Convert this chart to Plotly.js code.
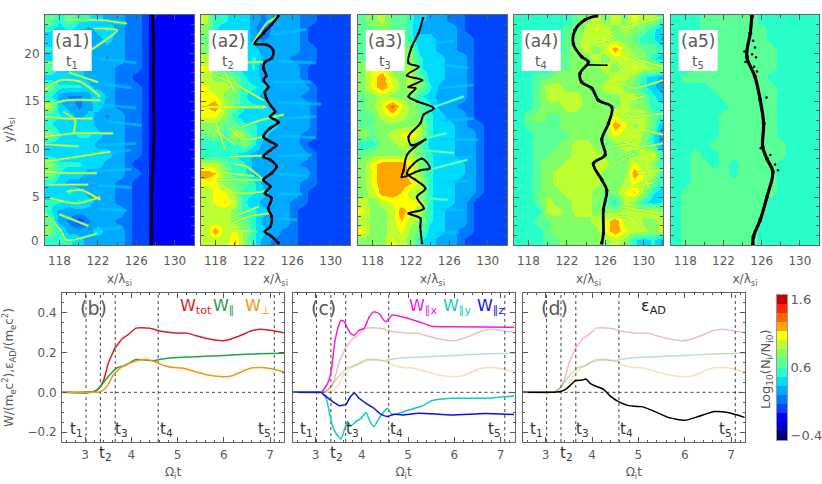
<!DOCTYPE html>
<html>
<head>
<meta charset="utf-8">
<script src="https://cdn.plot.ly/plotly-3.0.1.min.js"></script>
<style>html,body{margin:0;padding:0;background:#fff}#chart{width:822px;height:484px}</style>
</head>
<body>
<div id="chart"></div>
<script>
// density maps, read by eye, in tenths of log10(Ni/Ni0); rows run from top (y=23.5) to bottom (y=0.5)
const mapX = [117,118,119,120,121,122,123,124,125,126,127,128,129,130,131,132];
const mapY = [23.5,22.5,21.5,20.5,19.5,18.5,17.5,16.5,15.5,14.5,13.5,12.5,11.5,10.5,9.5,8.5,7.5,6.5,5.5,4.5,3.5,2.5,1.5,0.5];

const a1Rows = [
  [7,5,7,5,5,4,3,3,2,2,0,-1,-1,-1,-1,-1],[5,4,5,4,3,4,5,3,2,2,0,-1,-1,-1,-1,-1],
  [4,4,4,3,2,3,4,3,2,2,0,-1,-1,-1,-1,-1],[5,4,4,4,2,3,3,3,2,2,0,-1,-1,-1,-1,-1],
  [4,4,4,3,3,3,2,3,2,2,0,-1,-1,-1,-1,-1],[7,4,4,4,3,3,3,2,2,2,0,-1,-1,-1,-1,-1],
  [4,4,4,4,3,3,3,2,2,0,0,-1,-1,-1,-1,-1],[7,5,5,5,4,3,3,2,2,2,0,-1,-1,-1,-1,-1],
  [5,3,2,2,3,5,3,2,2,2,0,-1,-1,-1,-1,-1],[9,4,3,2,3,4,3,2,2,2,0,-1,-1,-1,-1,-1],
  [5,5,4,3,4,3,2,3,2,2,0,-1,-1,-1,-1,-1],[5,4,4,4,4,3,3,3,2,2,0,-1,-1,-1,-1,-1],
  [8,5,4,5,5,4,3,3,2,2,0,-1,-1,-1,-1,-1],[4,4,4,4,4,3,3,3,2,2,0,-1,-1,-1,-1,-1],
  [4,4,4,4,4,4,4,3,2,2,0,-1,-1,-1,-1,-1],[8,5,5,5,4,4,3,3,2,0,0,-1,-1,-1,-1,-1],
  [8,5,4,4,3,3,3,3,2,2,0,-1,-1,-1,-1,-1],[5,4,3,3,3,3,3,2,2,0,0,-1,-1,-1,-1,-1],
  [4,4,5,4,3,3,3,2,2,0,0,-1,-1,-1,-1,-1],[5,5,4,5,4,3,3,2,2,0,0,-1,-1,-1,-1,-1],
  [5,3,3,3,3,3,3,3,2,0,0,-1,-1,-1,-1,-1],[7,3,2,0,2,3,3,2,2,0,0,-1,-1,-1,-1,-1],
  [8,5,3,3,3,4,3,3,2,0,0,-1,-1,-1,-1,-1],[5,5,5,4,3,3,3,3,2,0,0,-1,-1,-1,-1,-1]
];
const a2Rows = [
  [9,5,5,4,4,3,2,3,3,3,2,2,0,0,0,0],[8,5,4,4,4,3,0,3,3,3,2,0,0,0,0,0],
  [7,5,4,4,4,3,2,3,3,3,2,0,0,0,0,0],[8,5,5,4,4,4,3,3,3,3,2,2,0,0,0,0],
  [9,7,5,4,4,5,3,3,3,2,2,2,0,0,0,0],[10,8,5,5,4,5,2,3,3,3,2,0,0,0,0,0],
  [9,8,8,7,5,4,3,3,3,3,2,0,0,0,0,0],[10,9,9,8,5,5,4,3,3,3,3,2,0,0,0,0],
  [10,10,8,7,5,4,3,3,3,3,2,2,0,0,0,0],[11,12,9,7,5,5,5,3,3,3,3,2,0,0,0,0],
  [10,10,8,5,4,4,4,4,3,3,3,2,0,0,0,0],[8,8,7,7,5,5,4,4,3,3,3,2,0,0,0,0],
  [7,8,5,10,8,5,4,3,3,3,2,2,0,0,0,0],[5,5,5,5,8,5,3,3,3,3,2,0,0,0,0,0],
  [5,5,5,5,4,3,3,3,3,3,3,2,0,0,0,0],[9,9,7,5,5,3,3,3,3,3,2,2,0,0,0,0],
  [12,11,8,5,5,3,3,3,3,3,3,2,0,0,0,0],[10,10,8,7,7,5,3,3,3,3,2,2,0,0,0,0],
  [9,10,10,8,5,5,4,3,3,3,2,0,0,0,0,0],[9,10,11,9,5,4,3,3,3,2,2,0,0,0,0,0],
  [9,9,9,8,5,5,4,3,3,2,0,0,0,0,0,0],[9,9,9,8,7,5,3,3,3,2,0,0,0,0,0,0],
  [9,12,9,10,8,5,4,3,2,2,0,0,0,0,0,0],[9,9,9,11,8,5,3,2,2,2,0,0,0,0,0,0]
];
const a3Rows = [
  [7,8,9,7,7,5,4,3,3,2,2,0,0,0,0,0],[7,7,8,7,7,5,3,3,3,3,2,0,0,0,0,0],
  [7,7,7,7,8,5,4,4,3,3,2,2,0,0,0,0],[7,7,7,8,8,7,4,4,3,3,2,2,0,0,0,0],
  [7,7,7,8,8,8,5,4,4,3,3,2,0,0,0,0],[8,10,10,8,8,9,5,4,4,3,3,2,0,0,0,0],
  [8,10,12,9,8,9,7,4,4,3,3,2,0,0,0,0],[8,10,12,10,8,9,8,5,3,3,3,2,0,0,0,0],
  [7,8,9,8,8,8,5,4,3,3,3,2,0,0,0,0],[7,8,10,13,10,8,7,5,3,3,2,2,0,0,0,0],
  [7,7,9,10,9,8,7,5,4,3,3,2,0,0,0,0],[7,7,8,8,8,8,9,5,4,4,3,2,2,0,0,0],
  [8,7,8,9,10,11,9,5,4,4,3,3,2,0,0,0],[5,5,8,8,9,8,7,4,4,4,3,3,2,0,0,0],
  [7,8,8,8,8,9,7,5,4,4,3,3,2,0,0,0],[8,10,12,12,12,10,8,5,4,4,4,3,2,0,0,0],
  [8,10,12,12,12,10,8,5,4,4,4,3,2,0,0,0],[8,10,12,12,12,11,9,5,4,4,3,3,2,0,0,0],
  [8,9,12,12,11,9,9,5,4,4,3,3,2,0,0,0],[9,8,9,10,10,10,10,5,4,4,3,2,0,0,0,0],
  [10,8,8,9,12,10,9,5,4,3,3,2,0,0,0,0],[9,8,8,9,11,9,8,5,4,3,3,2,0,0,0,0],
  [10,8,8,9,10,8,7,4,4,3,2,2,0,0,0,0],[8,8,8,10,9,8,5,4,3,3,2,0,0,0,0,0]
];
const a4Rows = [
  [5,5,5,5,5,5,7,8,9,8,9,8,10,9,9,5],[5,5,5,5,5,7,7,9,10,9,8,9,8,7,5,4],
  [5,5,5,5,5,7,8,9,9,10,8,8,7,5,5,3],[5,5,5,5,5,7,8,9,8,9,12,9,8,7,7,5],
  [5,5,5,5,7,7,8,8,9,8,9,10,9,8,5,4],[5,5,5,5,7,7,8,8,8,9,8,9,10,9,9,8],
  [5,5,7,7,8,8,8,8,8,8,9,9,8,5,4,3],[5,5,7,9,9,8,8,8,8,9,10,8,7,5,4,2],
  [5,5,7,9,9,9,9,8,8,8,8,9,9,7,5,4],[5,5,7,8,8,9,9,8,8,8,8,9,8,8,5,5],
  [5,7,8,7,7,8,8,8,8,8,10,9,10,9,7,5],[5,7,7,7,7,8,8,8,8,8,12,10,8,9,7,3],
  [5,5,7,7,7,7,8,8,8,8,10,9,10,8,5,2],[5,5,7,7,7,8,9,9,8,7,8,10,9,8,5,2],
  [5,5,7,7,8,8,9,9,9,8,7,8,8,9,10,5],[5,5,7,8,8,9,9,9,9,9,8,8,10,9,8,5],
  [5,5,7,8,9,9,9,9,9,8,8,8,12,10,9,5],[5,5,7,8,9,9,9,9,9,8,7,9,10,9,7,5],
  [5,5,7,8,8,9,9,9,8,7,8,10,11,8,5,4],[5,5,7,9,8,8,9,9,8,7,5,9,8,5,4,5],
  [5,5,5,9,9,8,9,9,8,8,8,9,9,9,10,8],[5,5,7,7,8,8,8,8,9,10,12,9,10,8,8,9],
  [5,5,5,7,8,8,8,8,8,10,12,10,9,9,8,9],[5,5,5,7,7,8,8,8,8,8,9,8,5,4,5,3]
];
const a5Rows = [
  [5,5,5,7,7,7,7,7,7,5,5,5,5,5,5,5],[5,5,5,7,7,7,7,7,7,7,5,5,5,5,5,5],
  [5,5,7,7,7,7,7,7,7,7,5,5,5,5,5,5],[5,5,7,7,7,7,7,7,7,7,7,5,5,5,5,5],
  [5,5,7,7,7,7,7,7,7,7,7,5,5,5,5,5],[5,5,7,7,7,7,7,7,7,7,7,5,5,5,5,5],
  [5,7,7,7,7,7,7,7,7,7,5,5,5,5,5,5],[5,5,5,5,7,7,7,7,7,7,7,5,5,5,5,5],
  [5,5,5,5,5,7,7,7,7,7,7,5,5,5,5,5],[5,5,5,5,5,5,7,7,7,7,7,5,5,5,5,5],
  [5,5,5,5,5,7,7,7,7,7,7,5,5,5,5,5],[5,5,5,5,5,7,7,7,7,7,7,5,5,5,5,5],
  [5,5,5,5,5,7,7,7,7,7,7,5,5,5,5,5],[5,5,5,5,7,7,7,7,7,7,7,7,5,5,5,5],
  [5,5,7,5,5,7,7,7,7,7,7,7,5,5,5,5],[5,5,7,7,5,7,5,7,7,7,7,5,5,5,5,5],
  [5,5,7,7,7,7,5,7,7,7,7,5,5,5,5,5],[5,5,7,7,7,7,7,7,7,7,7,5,5,5,5,5],
  [5,7,7,7,7,7,7,7,7,7,7,5,5,5,5,5],[5,7,7,7,7,7,7,7,7,7,5,5,5,5,5,5],
  [5,7,7,7,7,7,7,7,7,7,5,5,5,5,5,5],[5,7,7,7,7,7,7,7,7,5,5,5,5,5,5,5],
  [5,7,7,7,7,7,7,7,7,5,5,5,5,5,5,5],[5,7,7,7,7,7,7,7,7,5,5,5,5,5,5,5]
];

// thin bright filaments on top of the maps, null separates one from the next
const a1FilX = [116.5,118.07,120.16,122.25,null,116.5,118.76,122.25,null,116.5,118.76,121.4,null,116.5,119.46,123.6,null,116.5,119.8,123.3,null,116.5,118.76,121.9,null,117,119.8,122.25,null,116.5,118.07,118.76,121.9,null,118.76,122.25,125,null,121.55,124,121.2,null,119.46,119.64,118.4,null,118.76,120.3,122.25,null,116.5,118.5,null,116.5,120,null,117,121,null,118,121,null,119,122];
const a1FilY = [16.2,17.2,17.05,15.5,null,14.6,15.1,15.1,null,13.4,13.2,13.2,null,11.3,11.65,11.65,null,8.7,9.2,9.75,null,7.65,7.5,7.5,null,4.9,4.35,5,null,3.3,1.6,0.5,1.2,null,23.5,23.5,23.1,null,22.6,22.4,20.3,null,11.65,13,13.9,null,5.57,5.74,4.7,null,19,19,null,10.5,10.3,null,6.3,6.3,null,3.2,2,null,18,17];
const a2FilX = [118.1,119.85,123,null,117.06,119.85,123.3,null,120.5,122.3,125.1,null,119.85,121.06,123,null,119.5,122.6,123.3,null,119.85,121.2,123,null,118.1,120.5,123,null,119.15,121.2,123.3,null,119.85,121.6,123.7,null,121.9,123.3,124.55,null,119.85,123,null,117,119,null,118,120,null,120,122.5,null,118,122,null,120,122,null,119,120,null,118,119];
const a2FilY = [17.6,16.9,15.1,null,14.4,14.4,14.4,null,12.2,12.9,13.6,null,11.8,11,11.3,null,9.2,9.3,9.2,null,8.5,8.2,6.8,null,6.8,6.8,6.8,null,5.4,5.4,5.6,null,2.3,3,3.3,null,21,23.1,23.9,null,19,19.1,null,21,20,null,12,10.5,null,3,4,null,7.6,7.2,null,1.5,1.5,null,18,16,null,13,10];
const a3FilX = [122.6,125.8,null,123.7,127.9,null,124.4,127.5,null,123,126.5,null,123.3,125.7];
const a3FilY = [5,4.7,null,7.8,8.9,null,14.4,15.5,null,9.9,9.6,null,11.1,11.65];
const a4FilX = [126.5,128.2,129.6,132,null,127.56,129.65,132,null,127.56,128.95,132,null,127.2,128.6,128.26,132,null,127.56,129.65,132,null,129.3,132,null,127.56,129.65,132,null,126.15,128.2,129.6,null,126.5,129,null,124.5,127,null,128,130,null,127,129,null,128,131,null,129.5,130.5,null,130,132,null,127,128];
const a4FilY = [22.1,22.8,23.1,23.8,null,20.3,19.3,18.6,null,16.9,16.35,17.2,null,12.7,13.7,13.4,13.7,null,10.96,10.26,10.6,null,7.5,7.8,null,4,3.65,3.3,null,2.6,3,1.9,null,10.26,10.6,null,21,21.5,null,15,15.5,null,8.5,9.5,null,6,6.5,null,9,6,null,12,11.5,null,19,18];

// soft cyan streaks running out past the bright filaments
const a1StreakX = [121,125,null,122,126,null,121,125.5,null,122,126,null,123,126.5,null,122,126,null,122,125.5,null,121.5,125.5,null,122,125.5,null,122,125,null,121.5,124.5];
const a1StreakY = [23,23.2,null,19.5,19,null,17,16.4,null,14.7,14.3,null,12.9,12.5,null,10.4,10.6,null,9.5,9.9,null,7.7,7.9,null,6.2,6,null,3.8,3.6,null,1.6,1.8];
const a2StreakX = [124,127.5,null,124.5,128.5,null,124,128,null,124.5,129,null,125,128.5,null,124.5,128.5,null,124.5,128,null,124.5,127.5,null,124.5,127,null,124.5,126.5];
const a2StreakY = [22,22.5,null,19.2,19,null,17,17,null,14.9,14.7,null,13.2,13.4,null,11.4,11.2,null,9.3,9.4,null,7.4,7.2,null,5.3,5.3,null,2.8,2.6];
const a3StreakX = [124,126.5,null,125,128,null,125,128.5,null,125,128.5,null,125,129,null,125,128.5,null,125,128,null,124.5,127.5,null,124.5,127];
const a3StreakY = [21,21.3,null,18.8,18.5,null,16.4,16.7,null,13,13.2,null,11,11,null,9,9.2,null,6.5,6.7,null,3.8,3.6,null,1.2,1.3];

// particle front positions
const a1FrontX = [127.7,127.75,127.8,127.75,127.8,127.8,127.85,127.8,127.7,127.6,127.6,127.6,127.55];
const a1FrontY = [24,22,20,18,16,14,12,10,8,6,4,2,0];
const a2FrontX = [124.55,123.85,123,122.1,123.3,124,123.85,123.15,123,123.3,123,123.5,123.15,123.3,123.7,124.2,123.7,124.55,123.7,123,123.7,124.35,123.7,123,123.7,124.35,123.85,123,123.7,123.15,123.85,123.5,123.85,123.7,123.15,123.85,124.55];
const a2FrontY = [23.9,23,22.1,21,20.9,20.3,19.5,19.1,18.4,17.7,17.2,16.5,16,15.3,14.6,13.9,13.4,12.8,12.2,11.3,10.8,10.4,9.9,9.2,8.9,8.2,7.5,6.8,6.1,5.4,4.9,3.8,3,1.9,1.4,0.9,0.2];
const a3FrontX = [123.26,122.8,122.1,121.76,122.8,121.6,123.16,121.76,122.46,121.76,122.63,124.37,123.33,122.98,121.76,122.1,123.5,122.46,121.6,121.24,121.06,122.98,123.96,123.16,121.6,122.46,123.5,122.63,123.33,121.76,122.98,122.98,123.16];
const a3FrontY = [23.65,22.1,20.7,19,18.6,17.7,17.2,16.5,16.35,15.5,15,14.26,13.6,12.7,11.3,10.4,11,10.26,9.4,7.8,7.1,7.8,8,9,7.5,6.8,5.9,5,3.8,3.3,2.8,1.9,0.2];
const a4FrontX = [125.1,123.9,122.84,122.67,123.54,124.24,123.36,123.54,124.6,125.28,126.67,126.33,125.63,125.98,124.76,125.63,126.15,125.8,125.8,125.63];
const a4FrontY = [23.9,23.5,22.4,21,19.65,19.1,17.9,17,16.35,15.1,14.4,12.7,11,9.4,8.5,6.8,5.7,3.65,1.2,0.2];
const a4BranchX = [124.24,126.15];
const a4BranchY = [18.8,18.75];
const a5FrontX = [124.97,124.8,124.44,125.3,125.84,126.2,126.1,126.54,127.16,126.54,125.84,125.14,125.07];
const a5FrontY = [23.9,22.1,19.65,17.56,15.13,12.7,10.26,9,7.65,5,2.6,0.9,0];
const a5StrayX = [125.1,125.3,124.2,125.4,124.3,125.2,126.5,125.0,127.7,127.4,125.9,126.9,125.5];
const a5StrayY = [21.3,20.6,20.2,19.6,19.1,18.6,15.4,19.9,7.8,8.4,10.1,9.4,18.1];

// energy curves
const totT = [2.5,3,3.2,3.3,3.4,3.5,3.6,3.65,3.7,3.8,3.9,4,4.1,4.2,4.4,4.6,4.8,5,5.2,5.4,5.6,5.8,6,6.2,6.4,6.6,6.8,7,7.3];
const wTot = [0,0,0.004,0.02,0.06,0.146,0.2,0.226,0.24,0.27,0.285,0.305,0.323,0.325,0.322,0.31,0.302,0.298,0.298,0.285,0.272,0.263,0.26,0.272,0.29,0.31,0.318,0.312,0.3];
const parT = [2.5,3,3.2,3.3,3.4,3.5,3.6,3.7,3.8,3.9,4,4.1,4.3,4.5,4.6,4.8,5,5.5,6,6.5,7,7.3];
const wPar = [0,-0.003,0.004,0.02,0.05,0.08,0.105,0.125,0.13,0.14,0.155,0.165,0.163,0.16,0.165,0.172,0.175,0.18,0.185,0.192,0.195,0.197];
const perpT = [2.5,3,3.3,3.4,3.5,3.6,3.7,3.8,3.9,4,4.1,4.3,4.5,4.7,4.9,5.1,5.3,5.6,5.8,6,6.2,6.4,6.6,6.8,7,7.3];
const wPerp = [0,0,0.002,0.012,0.04,0.085,0.11,0.13,0.14,0.15,0.158,0.167,0.155,0.135,0.125,0.122,0.11,0.09,0.082,0.078,0.085,0.105,0.122,0.125,0.12,0.103];
const xT = [2.5,3,3.12,3.26,3.34,3.41,3.48,3.55,3.62,3.69,3.76,3.84,3.94,4.05,4.16,4.26,4.37,4.51,4.66,4.87,5.23,5.51,5.94,7.23,7.3];
const wParX = [0,0,0,0.045,0.112,0.246,0.322,0.363,0.355,0.322,0.296,0.288,0.313,0.322,0.38,0.405,0.397,0.355,0.389,0.38,0.355,0.333,0.33,0.327,0.327];
const yT = [2.5,3,3.12,3.23,3.3,3.37,3.44,3.55,3.62,3.69,3.76,3.87,3.98,4.09,4.16,4.26,4.37,4.48,4.55,4.66,4.8,5.01,5.3,5.51,5.94,6.66,7.29];
const wParY = [0,0,0,-0.03,-0.105,-0.173,-0.206,-0.235,-0.189,-0.147,-0.169,-0.147,-0.131,-0.102,-0.139,-0.173,-0.131,-0.097,-0.08,-0.114,-0.105,-0.089,-0.069,-0.042,-0.03,-0.03,-0.018];
const zT = [2.5,3,3.12,3.23,3.37,3.51,3.66,3.73,3.84,3.94,4.09,4.26,4.41,4.55,4.69,4.87,5.23,5.94,6.66,7.29];
const wParZ = [0,0,0,-0.022,-0.047,-0.067,-0.06,-0.03,-0.005,-0.03,-0.055,-0.08,-0.11,-0.122,-0.11,-0.114,-0.105,-0.114,-0.107,-0.112];
const adT = [2.5,3,3.2,3.32,3.43,3.54,3.64,3.79,3.87,3.96,4.07,4.25,4.39,4.57,4.79,5.07,5.36,5.64,6,6.29,6.64,6.93,7.29];
const eAd = [0,0,0.001,0.004,0.015,0.037,0.059,0.062,0.067,0.045,0.032,0.015,-0.018,-0.047,-0.067,-0.072,-0.097,-0.126,-0.141,-0.122,-0.097,-0.102,-0.126];

// marked times and the colour table
const markT = [3.02,3.33,3.65,4.58,7.09];
const markLabelT = [2.81,null,3.79,4.75,6.87];
const markNames = ['t<sub>1</sub>','t<sub>2</sub>','t<sub>3</sub>','t<sub>4</sub>','t<sub>5</sub>'];
const levelColors = ['#000078','#0000be','#0000ff','#0046ff','#0078ff','#00aaff','#00dcff','#28ffc8','#5aff96','#82ff64','#beff32','#ffff00','#ffa500','#ff6400','#ff2800','#c80000'];
const barLevels = [-0.4,-0.267,-0.133,0,0.133,0.267,0.4,0.533,0.667,0.8,0.933,1.067,1.2,1.333,1.467,1.6];

const W = 822, H = 484;
const TEXT = '#5a5a5a';
const font = { family: '"DejaVu Sans", sans-serif', size: 12, color: TEXT };
const stepScale = [];
levelColors.forEach((col, i) => {
  stepScale.push([i / 16, col]);
  stepScale.push([(i + 1) / 16, col]);
});
const fx = (px) => px / W;
const fy = (py) => 1 - py / H;

const topPanels = [
  { rows: a1Rows, left: 45, right: 194, name: '(a1)', t: 't<sub>1</sub>', front: [[a1FrontX, a1FrontY, 3.2]], fil: [a1FilX, a1FilY], streak: [a1StreakX, a1StreakY] },
  { rows: a2Rows, left: 201, right: 350, name: '(a2)', t: 't<sub>2</sub>', front: [[a2FrontX, a2FrontY, 3]], fil: [a2FilX, a2FilY], streak: [a2StreakX, a2StreakY] },
  { rows: a3Rows, left: 358, right: 507, name: '(a3)', t: 't<sub>3</sub>', front: [[a3FrontX, a3FrontY, 2.5]], fil: [a3FilX, a3FilY], filColor: '#7dffb0', streak: [a3StreakX, a3StreakY] },
  { rows: a4Rows, left: 514, right: 663, name: '(a4)', t: 't<sub>4</sub>', front: [[a4FrontX, a4FrontY, 3.5], [a4BranchX, a4BranchY, 2]], fil: [a4FilX, a4FilY] },
  { rows: a5Rows, left: 671, right: 819, name: '(a5)', t: 't<sub>5</sub>', front: [[a5FrontX, a5FrontY, 4]], stray: [a5StrayX, a5StrayY] }
];
const curves = {
  tot: { x: totT, y: wTot, color: '#d62222' },
  par: { x: parT, y: wPar, color: '#22a045' },
  perp: { x: perpT, y: wPerp, color: '#f59512' }
};
const lowPanels = [
  { left: 62, right: 284, tag: '(b)', tagX: 93 },
  { left: 292.5, right: 514.5, tag: '(c)', tagX: 323 },
  { left: 522.5, right: 745, tag: '(d)', tagX: 554 }
];

const data = [];
const shapes = [];
const annotations = [];
const layout = {
  width: W, height: H, margin: { l: 0, r: 0, t: 0, b: 0 },
  paper_bgcolor: '#fff', plot_bgcolor: '#fff', font, showlegend: false
};
const axisBase = {
  showgrid: false, zeroline: false, showline: true, linecolor: '#666', linewidth: 1,
  mirror: 'allticks', ticks: 'inside', tickcolor: '#555', tickfont: font
};

function pxNote(xpx, ypx, text, size, color) {
  annotations.push({ xref: 'paper', yref: 'paper', x: fx(xpx), y: fy(ypx), xanchor: 'center', yanchor: 'middle',
    text, showarrow: false, font: { ...font, size, color: color || TEXT } });
}

topPanels.forEach((p, i) => {
  const n = i + 1;
  const xa = 'x' + n, ya = 'y' + n;
  layout['xaxis' + n] = {
    ...axisBase, anchor: ya, domain: [fx(p.left), fx(p.right)], range: [116.5, 132],
    tickvals: [118, 122, 126, 130], ticklen: 5, ticklabelstandoff: 5,
    minor: { dtick: 2, ticks: 'inside', ticklen: 3, tickcolor: '#555' },
    title: { text: 'x/λ<sub>si</sub>', font, standoff: 7 }
  };
  layout['yaxis' + n] = {
    ...axisBase, anchor: xa, domain: [fy(245), fy(15)], range: [0, 24],
    tickvals: [5, 10, 15, 20], ticklen: 5, showticklabels: i === 0, ticklabelstandoff: 2,
    minor: { dtick: 1, ticks: 'inside', ticklen: 3, tickcolor: '#555' },
    title: i === 0 ? { text: 'y/λ<sub>si</sub>', font, standoff: 8 } : undefined
  };
  data.push({
    type: 'heatmap', xaxis: xa, yaxis: ya, x: mapX, y: mapY,
    z: p.rows.map((r) => r.map((v) => v / 10)),
    zmin: -0.4, zmax: 1.6, colorscale: stepScale, showscale: false, zsmooth: 'best'
  });
  if (p.streak) {
    data.push({ type: 'scatter', mode: 'lines', xaxis: xa, yaxis: ya, x: p.streak[0], y: p.streak[1],
      line: { color: '#00c8ff', width: 3 }, opacity: 0.65, hoverinfo: 'skip' });
  }
  if (p.fil) {
    const filCol = p.filColor || '#ffff00';
    data.push({ type: 'scatter', mode: 'lines', xaxis: xa, yaxis: ya, x: p.fil[0], y: p.fil[1],
      line: { color: '#28ffc8', width: 3.2, shape: 'spline', smoothing: 0.6 }, opacity: 0.55, hoverinfo: 'skip' });
    data.push({ type: 'scatter', mode: 'lines', xaxis: xa, yaxis: ya, x: p.fil[0], y: p.fil[1],
      line: { color: filCol, width: 1.3, shape: 'spline', smoothing: 0.6 }, hoverinfo: 'skip' });
  }
  p.front.forEach(([fxs, fys, size]) => {
    data.push({ type: 'scatter', mode: 'lines+markers', xaxis: xa, yaxis: ya, x: fxs, y: fys,
      line: { color: '#000', width: size * 0.8, shape: 'spline', smoothing: 1 }, marker: { color: '#000', size } });
  });
  if (p.stray) {
    data.push({ type: 'scatter', mode: 'markers', xaxis: xa, yaxis: ya, x: p.stray[0], y: p.stray[1],
      marker: { color: '#000', size: 2.5 } });
  }
  const boxL = p.left + 7.7, boxR = p.left + 46.7;
  shapes.push({ type: 'rect', xref: 'paper', yref: 'paper', x0: fx(boxL), x1: fx(boxR), y0: fy(71), y1: fy(30),
    fillcolor: '#fff', line: { width: 0 }, layer: 'above' });
  pxNote((boxL + boxR) / 2, 41, p.name, 17);
  pxNote((boxL + boxR) / 2, 62, p.t, 14);
});
annotations.push({ xref: 'paper', yref: 'paper', x: fx(41), xanchor: 'right', y: fy(240.5), yanchor: 'middle', text: '0', showarrow: false, font });

function lineTrace(c, xa, ya, opacity) {
  return { type: 'scatter', mode: 'lines', xaxis: xa, yaxis: ya, x: c.x, y: c.y,
    line: { color: c.color, width: 1.5, shape: 'spline', smoothing: 0.5 }, opacity };
}

lowPanels.forEach((p, i) => {
  const n = i + 6;
  const xa = 'x' + n, ya = 'y' + n;
  layout['xaxis' + n] = {
    ...axisBase, anchor: ya, domain: [fx(p.left), fx(p.right)], range: [2.5, 7.3],
    tickvals: [3, 4, 5, 6, 7], ticklen: 5, ticklabelstandoff: 2,
    minor: { dtick: 0.2, ticks: 'inside', ticklen: 2, tickcolor: '#555' },
    title: { text: 'Ω<sub>i</sub>t', font, standoff: 6 }
  };
  layout['yaxis' + n] = {
    ...axisBase, anchor: xa, domain: [fy(442), fy(293)], range: [-0.25, 0.5],
    tickvals: [-0.2, 0, 0.2, 0.4], tickformat: '.1f', ticklen: 5, showticklabels: i === 0, ticklabelstandoff: 2,
    minor: { dtick: 0.05, ticks: 'inside', ticklen: 2, tickcolor: '#555' },
    title: i === 0 ? { text: 'W/(m<sub>e</sub>c<sup>2</sup>),ε<sub>AD</sub>/(m<sub>e</sub>c<sup>2</sup>)', font, standoff: 14 } : undefined
  };
  shapes.push({ type: 'line', xref: xa, yref: ya, x0: 2.5, x1: 7.3, y0: 0, y1: 0, layer: 'below',
    line: { color: '#444', width: 1, dash: 'dot' } });
  markT.forEach((t) => {
    shapes.push({ type: 'line', xref: xa, yref: ya, x0: t, x1: t, y0: -0.25, y1: 0.5, layer: 'below',
      line: { color: '#444', width: 1, dash: 'dot' } });
  });
  markNames.forEach((name, k) => {
    if (k === 1) {
      // t2 sits below the frame, where an axis-referenced note would be hidden
      pxNote(p.left + 43.5, 453, name, 15, '#333');
      return;
    }
    annotations.push({ xref: xa, yref: ya, x: markLabelT[k], y: -0.187, text: name,
      xanchor: 'center', yanchor: 'middle', showarrow: false, font: { ...font, size: 15, color: '#333' } });
  });
  pxNote(p.tagX, 308, p.tag, 19);
  const fade = i === 0 ? 1 : 0.3;
  [curves.tot, curves.par, curves.perp].forEach((c) => data.push(lineTrace(c, xa, ya, fade)));
});

data.push(lineTrace({ x: xT, y: wParX, color: '#f020d0' }, 'x7', 'y7', 1));
data.push(lineTrace({ x: yT, y: wParY, color: '#18c8c0' }, 'x7', 'y7', 1));
data.push(lineTrace({ x: zT, y: wParZ, color: '#1010e0' }, 'x7', 'y7', 1));
data.push(lineTrace({ x: adT, y: eAd, color: '#000' }, 'x8', 'y8', 1));

pxNote(196, 306, 'W<sub>tot</sub>', 16, '#d62222');
pxNote(223, 306, 'W<sub>∥</sub>', 16, '#22a045');
pxNote(258, 306, 'W<sub>⊥</sub>', 16, '#f59512');
pxNote(423, 306, 'W<sub>∥x</sub>', 16, '#f020d0');
pxNote(457, 306, 'W<sub>∥y</sub>', 16, '#18c8c0');
pxNote(490, 306, 'W<sub>∥z</sub>', 16, '#1010e0');
pxNote(653, 306, 'ε<sub>AD</sub>', 16, '#222');

// colour bar as its own little heatmap
layout.xaxis9 = { domain: [fx(777), fx(787)], anchor: 'y9', range: [-0.5, 0.5], showticklabels: false, ticks: '', showgrid: false, zeroline: false, showline: true, linecolor: '#999', mirror: true };
layout.yaxis9 = { domain: [fy(440), fy(295)], anchor: 'x9', side: 'right', range: [-0.467, 1.667], tickvals: [-0.4, 0.6, 1.6], tickformat: '.1f', ticks: '',
  showgrid: false, zeroline: false, showline: true, linecolor: '#999', mirror: true, tickfont: { ...font, size: 13 } };
data.push({ type: 'heatmap', xaxis: 'x9', yaxis: 'y9', x: [0], y: barLevels, z: barLevels.map((v) => [v]),
  zmin: -0.4, zmax: 1.6, colorscale: stepScale, showscale: false });
annotations.push({ xref: 'paper', yref: 'paper', x: fx(766), y: fy(369), xanchor: 'center', yanchor: 'middle',
  text: 'Log<sub>10</sub>(N<sub>i</sub>/N<sub>i0</sub>)', textangle: -90, showarrow: false, font: { ...font, size: 13 } });

layout.shapes = shapes;
layout.annotations = annotations;
Plotly.newPlot('chart', data, layout, { displayModeBar: false, staticPlot: true });
</script>
</body>
</html>
